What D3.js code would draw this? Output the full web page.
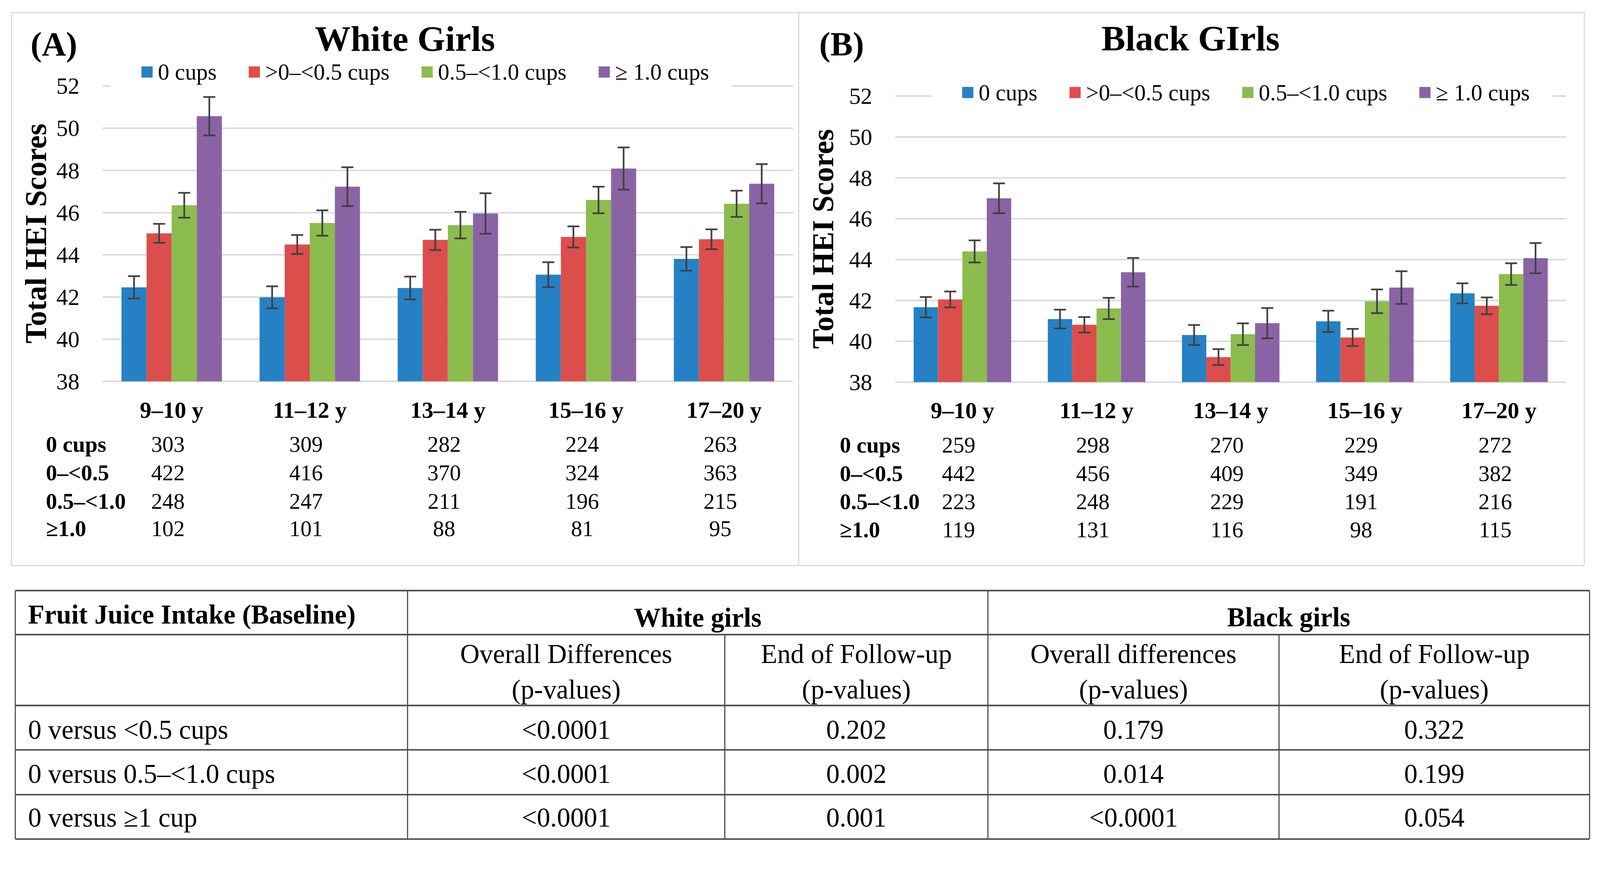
<!DOCTYPE html>
<html><head><meta charset="utf-8">
<script src="https://cdn.jsdelivr.net/npm/d3@7"></script>
<style>html,body{margin:0;padding:0;background:#fff;overflow:hidden}svg{display:block;width:100vw;height:100vh}</style>
</head><body><svg id="c" viewBox="0 0 4287 2287" preserveAspectRatio="xMinYMin meet"></svg>
<script>
// ---------------- DATA ----------------
const ageGroups = ["9–10 y", "11–12 y", "13–14 y", "15–16 y", "17–20 y"];
const seriesNames = ["0 cups", ">0–<0.5 cups", "0.5–<1.0 cups", "≥ 1.0 cups"];
const yTicks = [38, 40, 42, 44, 46, 48, 50, 52];

const white0    = [42.45, 41.98, 42.42, 43.05, 43.80];
const white05   = [45.01, 44.48, 44.70, 44.84, 44.73];
const white10   = [46.34, 45.50, 45.40, 46.59, 46.41];
const white1p   = [50.56, 47.22, 45.95, 48.08, 47.36];
const whiteErr0  = [0.53, 0.52, 0.54, 0.59, 0.56];
const whiteErr05 = [0.45, 0.45, 0.48, 0.50, 0.47];
const whiteErr10 = [0.59, 0.60, 0.63, 0.63, 0.62];
const whiteErr1p = [0.91, 0.92, 0.96, 1.00, 0.93];

const black0    = [41.66, 41.08, 40.30, 40.97, 42.34];
const black05   = [42.04, 40.80, 39.22, 40.18, 41.73];
const black10   = [44.39, 41.60, 40.34, 41.95, 43.28];
const black1p   = [46.99, 43.37, 40.88, 42.62, 44.06];
const blackErr0  = [0.50, 0.46, 0.49, 0.52, 0.49];
const blackErr05 = [0.39, 0.38, 0.39, 0.42, 0.41];
const blackErr10 = [0.54, 0.52, 0.53, 0.58, 0.53];
const blackErr1p = [0.73, 0.70, 0.74, 0.80, 0.74];

const countRowLabels = ["0 cups", "0–<0.5", "0.5–<1.0", "≥1.0"];
const whiteCounts0  = [303, 309, 282, 224, 263];
const whiteCounts05 = [422, 416, 370, 324, 363];
const whiteCounts10 = [248, 247, 211, 196, 215];
const whiteCounts1p = [102, 101, 88, 81, 95];
const blackCounts0  = [259, 298, 270, 229, 272];
const blackCounts05 = [442, 456, 409, 349, 382];
const blackCounts10 = [223, 248, 229, 191, 216];
const blackCounts1p = [119, 131, 116, 98, 115];

const tableRowLabels = ["0 versus <0.5 cups", "0 versus 0.5–<1.0 cups", "0 versus ≥1 cup"];
const whiteOverallP = ["<0.0001", "<0.0001", "<0.0001"];
const whiteEndP     = ["0.202", "0.002", "0.001"];
const blackOverallP = ["0.179", "0.014", "<0.0001"];
const blackEndP     = ["0.322", "0.199", "0.054"];

// ---------------- STYLE / LAYOUT ----------------
const colors = ["#2581C4", "#DC4E4C", "#8CBB4E", "#8A63A5"];
const serif = "'Liberation Serif','Times New Roman',serif";
const svg = d3.select("#c");
svg.append("rect").attr("width", 4287).attr("height", 2287).attr("fill", "#fff");

const panels = [
  { tag: "(A)", title: "White Girls",
    means: [white0, white05, white10, white1p],
    errs: [whiteErr0, whiteErr05, whiteErr10, whiteErr1p],
    counts: [whiteCounts0, whiteCounts05, whiteCounts10, whiteCounts1p],
    L: { box: [31, 34, 2140, 1516], left: 275, right: 2125, top: 230, bottom: 1022,
         titleX: 1085, titleY: 136, tagX: 82, tagY: 149, legendX: 379, legendY: 193,
         yTitleX: 123, catY: 1120, countX: 123, countY: [1211, 1287, 1364, 1437] } },
  { tag: "(B)", title: "Black GIrls",
    means: [black0, black05, black10, black1p],
    errs: [blackErr0, blackErr05, blackErr10, blackErr1p],
    counts: [blackCounts0, blackCounts05, blackCounts10, blackCounts1p],
    L: { box: [2140, 34, 4245, 1516], left: 2399, right: 4196, top: 257, bottom: 1024,
         titleX: 3190, titleY: 135, tagX: 2195, tagY: 149, legendX: 2578, legendY: 248,
         yTitleX: 2232, catY: 1121, countX: 2250, countY: [1213, 1289, 1365, 1440] } }
];

panels.forEach(p => {
  const L = p.L;
  const g = svg.append("g");
  g.append("rect").attr("x", L.box[0]).attr("y", L.box[1])
    .attr("width", L.box[2] - L.box[0]).attr("height", L.box[3] - L.box[1])
    .attr("fill", "none").attr("stroke", "#D9D9D9").attr("stroke-width", 3);

  const x0 = d3.scaleBand().domain(ageGroups).range([L.left, L.right])
    .paddingInner(0.273).paddingOuter(0.1365);
  const x1 = d3.scaleBand().domain(seriesNames).range([0, x0.bandwidth()]);
  const y = d3.scaleLinear().domain([38, 52]).range([L.bottom, L.top]);

  const ax = g.append("g").attr("transform", `translate(${L.left},0)`)
    .call(d3.axisLeft(y).tickValues(yTicks).tickSize(-(L.right - L.left)).tickPadding(62).tickFormat(d3.format("d")));
  ax.select(".domain").remove();
  ax.selectAll(".tick line").attr("stroke", "#D9D9D9").attr("stroke-width", 4);
  ax.selectAll(".tick text").attr("font-family", serif).attr("font-size", 62).attr("fill", "#000").attr("dy", "0.34em");

  const groups = g.append("g").selectAll("g").data(ageGroups).join("g")
    .attr("transform", d => `translate(${x0(d)},0)`);
  const cell = (d, i) => seriesNames.map((s, k) => ({ s, k, v: p.means[k][i], e: p.errs[k][i] }));
  groups.selectAll("rect").data(cell).join("rect")
    .attr("x", d => x1(d.s)).attr("width", x1.bandwidth())
    .attr("y", d => y(d.v)).attr("height", d => y(38) - y(d.v))
    .attr("fill", d => colors[d.k]);
  const eb = groups.selectAll("g.eb").data(cell).join("g").attr("class", "eb")
    .attr("stroke", "#404040").attr("stroke-width", 4.5);
  const cxm = d => x1(d.s) + x1.bandwidth() / 2;
  eb.append("line").attr("x1", cxm).attr("x2", cxm)
    .attr("y1", d => y(d.v + d.e)).attr("y2", d => y(d.v - d.e));
  [1, -1].forEach(sg => {
    eb.append("line").attr("x1", d => cxm(d) - 16).attr("x2", d => cxm(d) + 16)
      .attr("y1", d => y(d.v + sg * d.e)).attr("y2", d => y(d.v + sg * d.e));
  });

  const cx = g.append("g").attr("transform", `translate(0,${L.catY})`)
    .call(d3.axisBottom(x0).tickSize(0).tickPadding(0));
  cx.select(".domain").remove();
  cx.selectAll(".tick text").attr("font-family", serif).attr("font-size", 62).attr("font-weight", "bold")
    .attr("fill", "#000").attr("dy", 0).attr("y", 0);

  const lg = g.append("g");
  const bg = lg.append("rect").attr("fill", "#fff");
  let lx = L.legendX;
  seriesNames.forEach((s, k) => {
    lg.append("rect").attr("x", lx).attr("y", L.legendY - 15).attr("width", 30).attr("height", 30).attr("fill", colors[k]);
    const t = lg.append("text").attr("x", lx + 44).attr("y", L.legendY + 21)
      .attr("font-family", serif).attr("font-size", 61).attr("fill", "#000").text(s);
    lx = lx + 44 + t.node().getComputedTextLength() + 86;
  });
  const legEnd = lx - 86;
  bg.attr("x", L.legendX - 82).attr("width", legEnd - L.legendX + 82 + 60)
    .attr("y", L.legendY - 42).attr("height", L.top + 8 - (L.legendY - 42));

  g.append("text").attr("x", L.titleX).attr("y", L.titleY).attr("text-anchor", "middle")
    .attr("font-family", serif).attr("font-weight", "bold").attr("font-size", 96).text(p.title);
  g.append("text").attr("x", L.tagX).attr("y", L.tagY)
    .attr("font-family", serif).attr("font-weight", "bold").attr("font-size", 90).text(p.tag);
  g.append("text").attr("transform", `translate(${L.yTitleX},${(L.top + L.bottom) / 2}) rotate(-90)`)
    .attr("text-anchor", "middle").attr("font-family", serif).attr("font-weight", "bold").attr("font-size", 81)
    .text("Total HEI Scores");

  countRowLabels.forEach((lab, r) => {
    g.append("text").attr("x", L.countX).attr("y", L.countY[r]).attr("font-family", serif)
      .attr("font-weight", "bold").attr("font-size", 60).text(lab);
    g.append("g").selectAll("text").data(p.counts[r]).join("text")
      .attr("x", (d, i) => x0(ageGroups[i]) + x0.bandwidth() / 2 - 10).attr("y", L.countY[r])
      .attr("text-anchor", "middle").attr("font-family", serif).attr("font-size", 60).text(d => d);
  });
});

// ---------------- BOTTOM TABLE ----------------
const T = { left: 41, right: 4259, rows: [1583, 1701, 1891, 2010, 2130, 2249], c1: 1092, c2: 1942, c3: 2647, c4: 3427 };
const tg = svg.append("g");
tg.selectAll("line.h").data(T.rows).join("line").attr("class", "h")
  .attr("x1", T.left).attr("x2", T.right).attr("y1", d => d).attr("y2", d => d)
  .attr("stroke", "#4a4a4a").attr("stroke-width", 4);
[[T.left, T.rows[0]], [T.right, T.rows[0]], [T.c1, T.rows[0]], [T.c3, T.rows[0]], [T.c2, T.rows[1]], [T.c4, T.rows[1]]]
  .forEach(([x, y0]) => tg.append("line").attr("x1", x).attr("x2", x).attr("y1", y0).attr("y2", T.rows[5])
    .attr("stroke", "#4a4a4a").attr("stroke-width", 3));

const txt = (x, y, s, opts = {}) => tg.append("text").attr("x", x).attr("y", y)
  .attr("text-anchor", opts.anchor || "middle").attr("font-family", serif).attr("font-size", 72)
  .attr("font-weight", opts.bold ? "bold" : "normal").text(s);

txt(75, 1671, "Fruit Juice Intake (Baseline)", { anchor: "start", bold: true });
txt((T.c1 + T.c3) / 2, 1680, "White girls", { bold: true });
txt((T.c3 + T.right) / 2, 1679, "Black girls", { bold: true });

const colCenters = [(T.c1 + T.c2) / 2, (T.c2 + T.c3) / 2, (T.c3 + T.c4) / 2, (T.c4 + T.right) / 2];
const subHead1 = ["Overall Differences", "End of Follow-up", "Overall differences", "End of Follow-up"];
subHead1.forEach((s, i) => { txt(colCenters[i], 1777, s); txt(colCenters[i], 1872, "(p-values)"); });

const rowBaselines = [1980, 2098, 2216];
const cols = [whiteOverallP, whiteEndP, blackOverallP, blackEndP];
tableRowLabels.forEach((lab, r) => {
  txt(75, rowBaselines[r], lab, { anchor: "start" });
  cols.forEach((col, c) => txt(colCenters[c], rowBaselines[r], col[r]));
});
</script></body></html>
